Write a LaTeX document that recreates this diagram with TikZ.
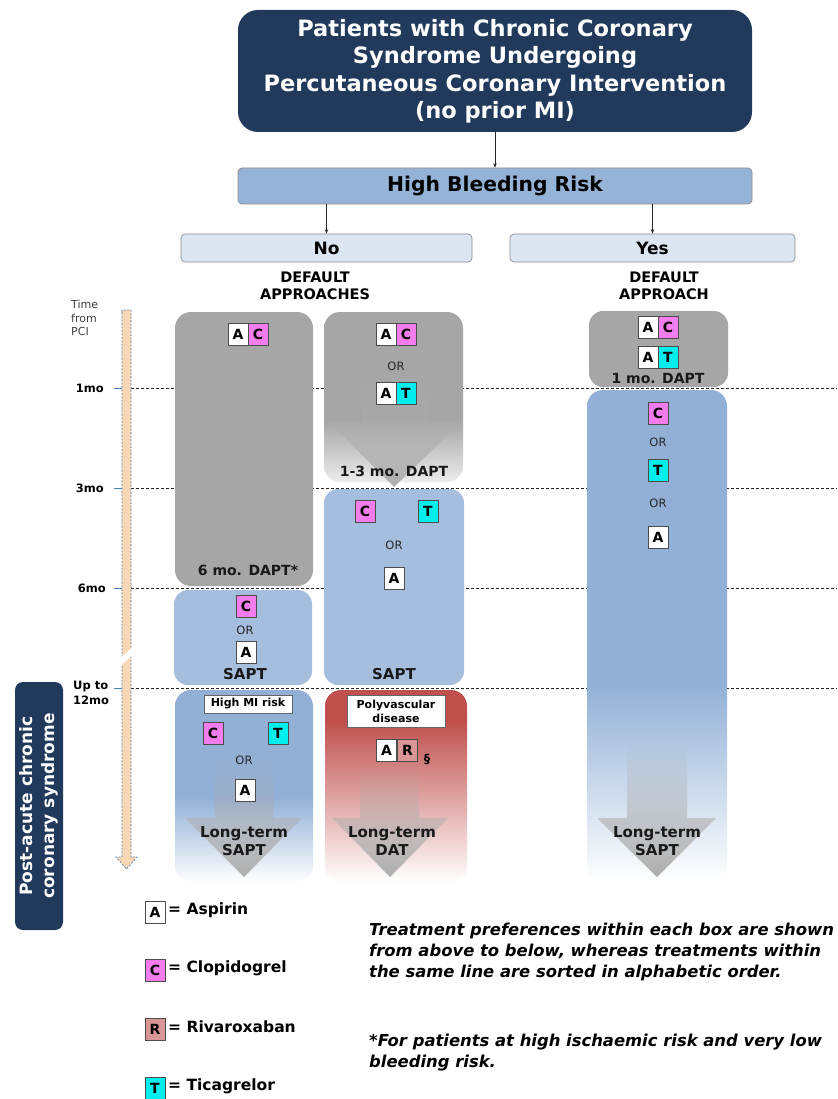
\documentclass[tikz,border=0pt]{standalone}
\usepackage{fontspec}
\setmainfont{DejaVu Sans}
\usetikzlibrary{fadings,arrows.meta}
\definecolor{navy}{RGB}{33,58,92}
\definecolor{hbrblue}{RGB}{149,179,215}
\definecolor{paleblue}{RGB}{220,230,242}
\definecolor{boxgray}{RGB}{166,166,166}
\definecolor{saptblue}{RGB}{166,190,222}
\definecolor{deepblue}{RGB}{146,176,214}
\definecolor{redbox}{RGB}{192,80,77}
\definecolor{cpink}{RGB}{243,125,236}
\definecolor{tcyan}{RGB}{0,238,238}
\definecolor{rrose}{RGB}{217,150,148}
\definecolor{barorange}{RGB}{250,215,180}
\definecolor{tickblue}{RGB}{79,129,189}
\definecolor{fadegray}{RGB}{236,236,236}
\pgfdeclareverticalshading{fadeLeft}{100bp}{color(0bp)=(white); color(25bp)=(white); color(47bp)=(deepblue); color(100bp)=(deepblue)}
\pgfdeclareverticalshading{fadeRed}{100bp}{color(0bp)=(white); color(25bp)=(white); color(67bp)=(redbox); color(100bp)=(redbox)}
\pgfdeclareverticalshading{fadeRight}{100bp}{color(0bp)=(white); color(25bp)=(white); color(45bp)=(deepblue); color(100bp)=(deepblue)}
\pgfdeclareverticalshading{fadeGray}{100bp}{color(0bp)=(fadegray); color(25bp)=(fadegray); color(43bp)=(boxgray); color(100bp)=(boxgray)}
\tikzfading[name=arrfade, top color=transparent!100, bottom color=transparent!0]
\tikzset{
 drug/.style={draw=black!70, line width=0.7pt, minimum width=20pt, minimum height=22pt, inner sep=0pt, font=\bfseries\fontsize{14}{14}\selectfont, text=black},
 dA/.style={drug, fill=white},
 dC/.style={drug, fill=cpink},
 dT/.style={drug, fill=tcyan},
 dR/.style={drug, fill=rrose},
 ortext/.style={font=\fontsize{11.5}{12}\selectfont, text=black!85, inner sep=0pt},
 boldlbl/.style={font=\bfseries\fontsize{14}{18}\selectfont, align=center, text=black!90, inner sep=0pt},
 saptlbl/.style={font=\bfseries\fontsize{15}{18}\selectfont, align=center, text=black!90, inner sep=0pt},
 smalllbl/.style={font=\bfseries\fontsize{14.5}{17}\selectfont, align=center, inner sep=0pt},
 tag/.style={draw=black!60, fill=white, line width=0.7pt, font=\bfseries\fontsize{11}{14}\selectfont, align=center, inner sep=2pt},
 conn/.style={draw=black!85, line width=0.8pt, -{Stealth[length=4.5pt,width=3.5pt]}},
 gridline/.style={draw=black!85, line width=0.8pt, dash pattern=on 3pt off 2pt},
 bigarrow/.style={fill=black!32, path fading=arrfade},
 ticklbl/.style={font=\bfseries\fontsize{11.5}{15}\selectfont, inner sep=0pt},
 legtext/.style={font=\bfseries\fontsize{15.5}{18}\selectfont, anchor=west, inner sep=2pt},
 notetext/.style={font=\bfseries\itshape\fontsize{16.4}{21}\selectfont, align=left, anchor=north west, inner sep=0pt},
 titlebox/.style={fill=navy, rounded corners=20pt, minimum width=514pt, minimum height=122pt, text=white, font=\bfseries\fontsize{22.5}{27.5}\selectfont},
 hbrbox/.style={fill=hbrblue, draw=black!45, line width=0.7pt, rounded corners=4pt, minimum width=514pt, minimum height=36pt, font=\bfseries\fontsize{20.3}{21}\selectfont},
 choicebox/.style={fill=paleblue, draw=black!45, line width=0.7pt, rounded corners=4pt, minimum height=28pt, font=\bfseries\fontsize{17}{18}\selectfont},
}
\begin{document}
\begin{tikzpicture}[x=1pt,y=-1pt]
\useasboundingbox (0,0) rectangle (837,1099);
\fill[white] (0,0) rectangle (837,1099);

% time grid
\foreach \yy in {388,488,588,688}{
  \draw[gridline] (131,\yy) -- (837,\yy);
  \draw[tickblue, line width=0.9pt] (114,\yy) -- (122,\yy);
}
% timeline bar
\filldraw[fill=barorange, draw=tickblue, line width=0.7pt, dash pattern=on 2pt off 1.5pt]
  (122,312) -- (122,310) -- (131,310) -- (131,857) -- (137,857) -- (126.5,869) -- (116,857) -- (122,857) -- cycle;
\fill[white] (118,668) -- (118,660) -- (135,645) -- (135,653) -- cycle;

\node[font=\fontsize{11}{13.5}\selectfont, align=left, anchor=north west, text=black!75, inner sep=0pt] (tfp) at (71,300) {Time\\from\\PCI};
\node[ticklbl, anchor=east] (t1) at (104,388) {1mo};
\node[ticklbl, anchor=east] (t3) at (104,488) {3mo};
\node[ticklbl, anchor=east] (t6) at (106,588) {6mo};
\node[ticklbl, anchor=west, align=left] (t12) at (73,693) {Up to\\12mo};

% column 1
\fill[boxgray, rounded corners=16pt] (175,312) rectangle (313,586);
\fill[saptblue, rounded corners=14pt] (174,590) rectangle (312,685);
\shade[shading=fadeLeft, rounded corners=16pt] (175,690) rectangle (313,882);
% column 2
\shade[shading=fadeGray, rounded corners=16pt] (324,312) rectangle (463,482);
\fill[saptblue, rounded corners=14pt] (324,489) rectangle (464,685);
\shade[shading=fadeRed, rounded corners=16pt] (325,690) rectangle (467,882);
% column 3
\fill[boxgray, rounded corners=14pt] (589,311) rectangle (728,387);
\shade[shading=fadeRight, rounded corners=16pt] (587,390) rectangle (727,882);

% big arrows
\fill[bigarrow] (362,375) -- (427,375) -- (427,425) -- (458,425) -- (394,487) -- (332,425) -- (362,425) -- cycle;
\fill[bigarrow] (215,755) -- (273,755) -- (273,818) -- (302,818) -- (244,877) -- (185,818) -- (215,818) -- cycle;
\fill[bigarrow] (360,763) -- (419,763) -- (419,818) -- (448,818) -- (390,877) -- (332,818) -- (360,818) -- cycle;
\fill[bigarrow] (627,740) -- (687,740) -- (687,818) -- (716,818) -- (657,877) -- (597,818) -- (627,818) -- cycle;

% column 1 content
\node[dA] (c1a) at (238,334) {A};
\node[dC] (c1c) at (258,334) {C};
\node[boldlbl] (c1dapt) at (248,570) {6 mo. DAPT*};
\node[dC] (c1s1) at (246,606) {C};
\node[ortext] (c1or) at (245,630) {OR};
\node[dA] (c1s2) at (246,652) {A};
\node[saptlbl] (c1sapt) at (245,674) {SAPT};
\node[tag, minimum width=88pt, minimum height=18pt] (mirisk) at (248,704) {High MI risk};
\node[dC] (p1c) at (213,733) {C};
\node[dT] (p1t) at (278,733) {T};
\node[ortext] (p1or) at (244,760) {OR};
\node[dA] (p1a) at (245,790) {A};
\node[saptlbl] (p1lt) at (244,841) {Long-term\\SAPT};

% column 2 content
\node[dA] (c2a) at (386,334) {A};
\node[dC] (c2c) at (406,334) {C};
\node[ortext] (c2or) at (396,366) {OR};
\node[dA] (c2a2) at (386,393) {A};
\node[dT] (c2t) at (406,393) {T};
\node[boldlbl] (c2dapt) at (394,471) {1-3 mo. DAPT};
\node[dC] (c2s1) at (365,511) {C};
\node[dT] (c2s2) at (428,511) {T};
\node[ortext] (c2or2) at (394,545) {OR};
\node[dA] (c2s3) at (394,578) {A};
\node[saptlbl] (c2sapt) at (394,674) {SAPT};
\node[tag, minimum width=98pt, minimum height=32pt] (poly) at (396,711) {Polyvascular\\disease};
\node[dA] (p2a) at (386.5,750) {A};
\node[dR] (p2r) at (407.5,750) {R};
\node[font=\bfseries\fontsize{12.5}{13}\selectfont, inner sep=0pt] (sect) at (427,759) {§};
\node[saptlbl] (p2lt) at (392,841) {Long-term\\DAT};

% column 3 content
\node[dA] (c3a) at (648,327) {A};
\node[dC] (c3c) at (668,327) {C};
\node[dA] (c3a2) at (648,357) {A};
\node[dT] (c3t) at (668,357) {T};
\node[boldlbl] (c3dapt) at (658,378) {1 mo. DAPT};
\node[dC] (c3s1) at (658,413) {C};
\node[ortext] (c3or1) at (658,442) {OR};
\node[dT] (c3s2) at (658,470) {T};
\node[ortext] (c3or2) at (658,503) {OR};
\node[dA] (c3s3) at (658,537) {A};
\node[saptlbl] (c3lt) at (657,841) {Long-term\\SAPT};

% top flow
\node[titlebox] (title) at (495,71) {\raisebox{-6pt}[0pt][0pt]{\begin{tabular}{@{}c@{}}Patients with Chronic Coronary\\Syndrome Undergoing\\Percutaneous Coronary Intervention\\(no prior MI)\end{tabular}}};
\node[hbrbox] (hbr) at (495,186) {High Bleeding Risk};
\node[choicebox, minimum width=291pt] (no) at (326.5,248) {No};
\node[choicebox, minimum width=285pt] (yes) at (652.5,248) {Yes};
\draw[conn] (title.south) -- (hbr.north);
\draw[conn] (hbr.south -| no.north) -- (no.north);
\draw[conn] (hbr.south -| yes.north) -- (yes.north);
\node[smalllbl] (defno) at (315,285.5) {DEFAULT\\APPROACHES};
\node[smalllbl] (defyes) at (664,285.5) {DEFAULT\\APPROACH};

% post-acute label
\node[fill=navy, rounded corners=8pt, minimum width=248pt, minimum height=48pt, rotate=90, text=white, font=\bfseries\fontsize{17}{22}\selectfont, align=center, inner sep=0pt] (post) at (39,806) {Post-acute chronic\\coronary syndrome};

% legend
\node[dA, minimum width=20pt] (lA) at (155,912) {A};
\node[legtext] (lAt) at (166,910) {= Aspirin};
\node[dC, minimum width=20pt] (lC) at (155,970) {C};
\node[legtext] (lCt) at (166,968) {= Clopidogrel};
\node[dR, minimum width=20pt] (lR) at (155,1029) {R};
\node[legtext] (lRt) at (166,1027) {= Rivaroxaban};
\node[dT, minimum width=20pt] (lT) at (155,1088) {T};
\node[legtext] (lTt) at (166,1086) {= Ticagrelor};

\node[notetext] (note1) at (369,923) {Treatment preferences within each box are shown\\from above to below, whereas treatments within\\the same line are sorted in alphabetic order.};
\node[notetext] (note2) at (369,1034) {*For patients at high ischaemic risk and very low\\bleeding risk.};
\end{tikzpicture}
\end{document}
